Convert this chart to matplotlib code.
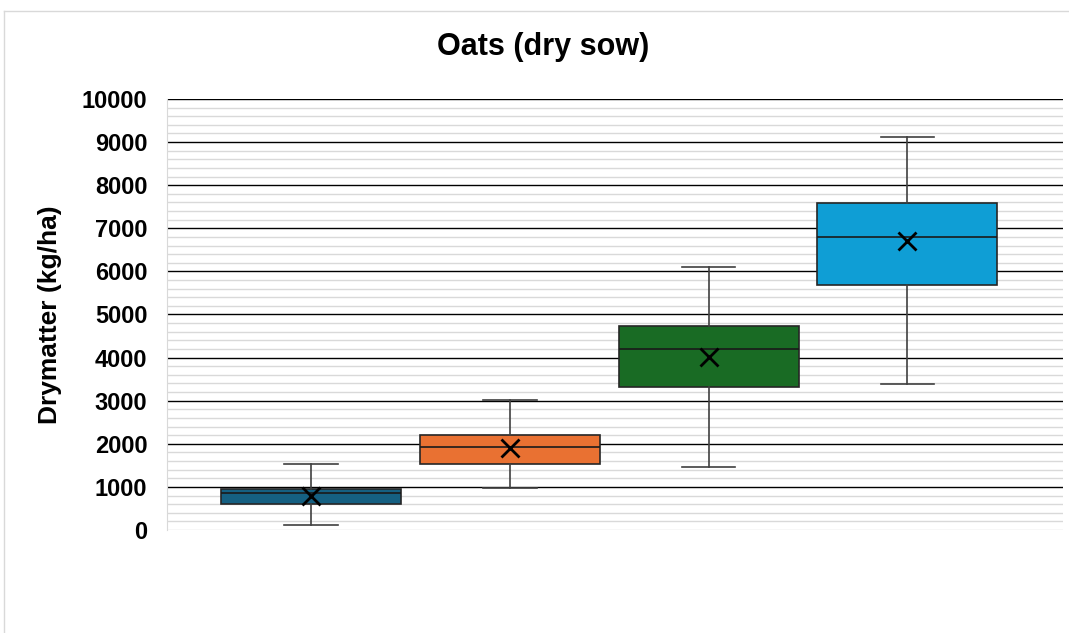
import matplotlib.pyplot as plt
from matplotlib.lines import Line2D

# summary stats (kg/ha)
groups = ['1', '2', '3', '4']
whislo = [120, 980, 1460, 3390]
q1 = [600, 1525, 3320, 5690]
med = [860, 1920, 4200, 6790]
q3 = [950, 2205, 4725, 7595]
whishi = [1520, 3020, 6110, 9120]
means = [790, 1900, 4020, 6710]
colors = ['#156082', '#E97132', '#196B24', '#0F9ED5']

stats = []
for i in range(len(groups)):
    stats.append({'label': groups[i], 'whislo': whislo[i], 'q1': q1[i], 'med': med[i],
                  'q3': q3[i], 'whishi': whishi[i], 'mean': means[i], 'fliers': []})

fig = plt.figure(figsize=(10.69, 6.33), dpi=100)
ax = fig.add_axes([0.156, 0.1627, 0.838, 0.681])

# outer chart frame
fig.add_artist(Line2D([0.004, 1.0], [0.983, 0.983], color='#d9d9d9', lw=1))
fig.add_artist(Line2D([0.004, 0.004], [0.0, 0.983], color='#d9d9d9', lw=1))

bp = ax.bxp(stats, positions=[1, 2, 3, 4], widths=0.905, patch_artist=True,
            showmeans=True, showfliers=False,
            boxprops=dict(edgecolor='#262626', linewidth=1.2),
            medianprops=dict(color='#1a1a1a', linewidth=1.2),
            whiskerprops=dict(color='#404040', linewidth=1.2),
            capprops=dict(color='#404040', linewidth=1.2),
            meanprops=dict(marker='x', markeredgecolor='black', markersize=13, markeredgewidth=2))
for patch, c in zip(bp['boxes'], colors):
    patch.set_facecolor(c)
for cap in bp['caps']:
    x = cap.get_xdata()
    mid = (x[0] + x[1]) / 2
    cap.set_xdata([mid - 0.135, mid + 0.135])

ax.set_xlim(0.276, 4.78)
ax.set_ylim(0, 10000)
ax.set_yticks(range(0, 10001, 1000))
ax.set_yticks(range(0, 10001, 200), minor=True)
ax.grid(axis='y', which='minor', color='#d9d9d9', linewidth=1)
ax.grid(axis='y', which='major', color='black', linewidth=1)
ax.set_axisbelow(True)
ax.get_ygridlines()[0].set_color('#d9d9d9')
ax.set_xticks([])
for s in ['top', 'right', 'bottom']:
    ax.spines[s].set_visible(False)
ax.spines['left'].set_color('#d9d9d9')
ax.tick_params(axis='y', which='both', length=0, pad=14)
for lbl in ax.get_yticklabels():
    lbl.set_fontfamily('Liberation Sans')
    lbl.set_fontweight('bold')
    lbl.set_fontsize(17)

fig.text(0.508, 0.925, 'Oats (dry sow)', ha='center', va='center', fontsize=22,
         fontweight='bold', family='Liberation Sans')
ax.set_ylabel('Drymatter (kg/ha)', fontsize=19, fontweight='bold',
              family='Liberation Sans', labelpad=14)

fig.savefig('out.png', dpi=100)
